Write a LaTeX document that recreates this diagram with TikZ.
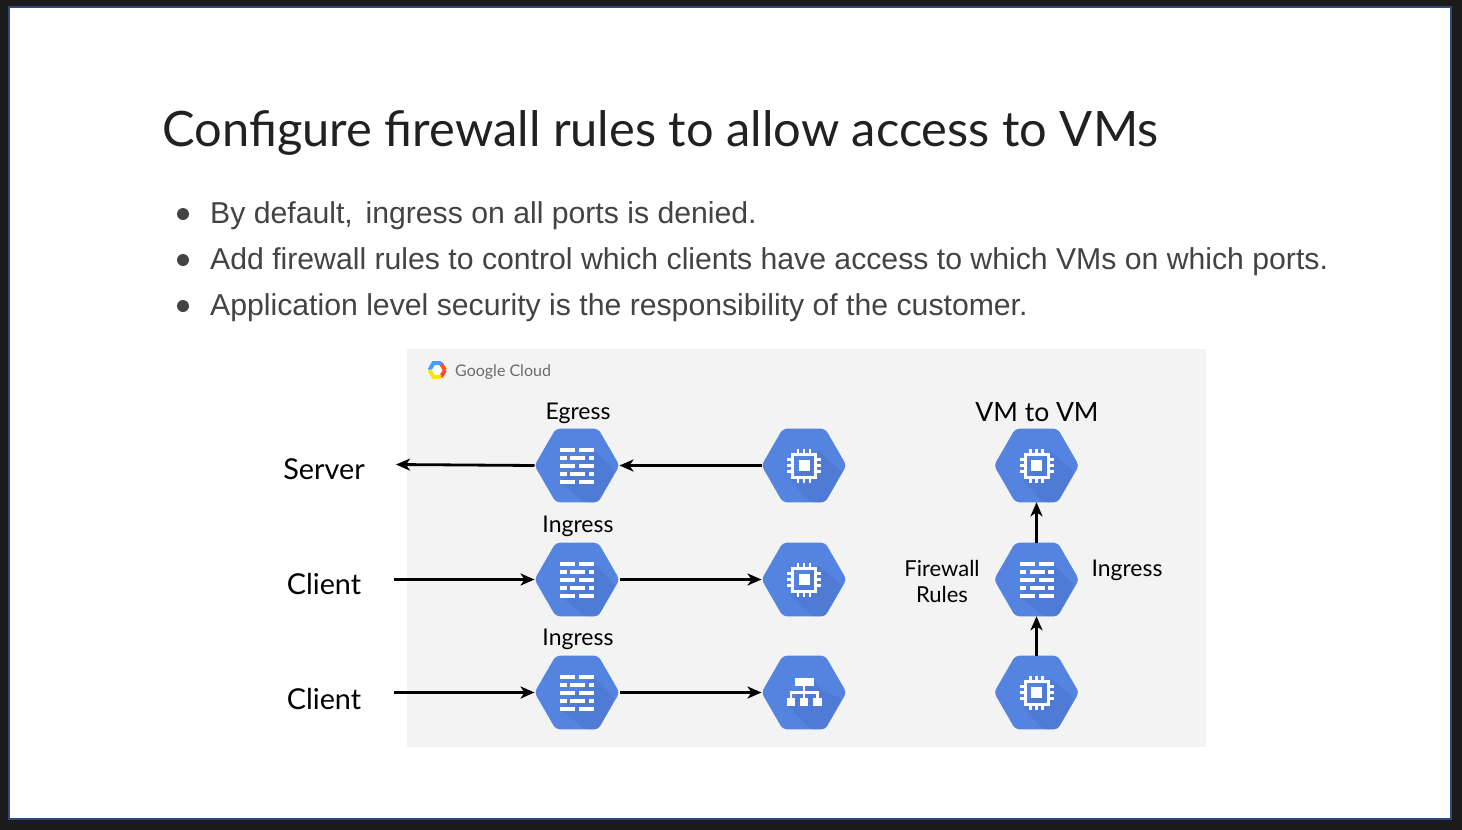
\documentclass[tikz,border=0pt]{standalone}
\usepackage{fontspec}
\setmainfont{Lato}
\newfontfamily\bodyfont{Liberation Sans}
\usetikzlibrary{shapes.geometric,arrows.meta}
\definecolor{hexblue}{HTML}{5484E0}
\definecolor{hexdark}{HTML}{4F7BD4}
\definecolor{panel}{HTML}{F3F3F3}
\definecolor{framebg}{HTML}{1B1B1B}
\definecolor{frameblue}{HTML}{2B4A80}
\definecolor{bodytxt}{HTML}{434343}
\definecolor{titletxt}{HTML}{212121}
\tikzset{
  x=1pt,y=-1pt,
  hexn/.style={regular polygon,regular polygon sides=6,minimum size=85pt,inner sep=0pt,outer sep=0pt,fill=hexblue,rounded corners=4pt},
  conn/.style={line width=2.8pt,black,-{Stealth[length=14pt,width=12pt,inset=4pt]}},
  lab/.style={inner sep=0pt,font=\fontsize{23}{23}\selectfont,text=black,anchor=base},
  sidewords/.style={lab,font=\fontsize{22}{22}\selectfont},
  biglab/.style={lab,font=\fontsize{26.5}{26.5}\selectfont},
  sidelab/.style={lab,font=\fontsize{28.8}{28.8}\selectfont},
  bul/.style={inner sep=0pt,anchor=base west,font=\bodyfont\fontsize{30.2}{30.2}\selectfont,text=bodytxt},
  dot/.style={circle,fill=bodytxt,minimum size=12pt,inner sep=0pt},
  shade/.style={fill=hexdark,rounded corners=3pt},
  ic/.style={fill=white,draw=none},
  fwicon/.pic={
    \fill[shade] (17,-16) -- (38,6) -- (21,36.5) -- (7,36.5) -- (-17,16) -- cycle;
    \foreach \y in {-16,0,16} {\fill[ic] (-17,\y-2) rectangle (-2,\y+2); \fill[ic] (2,\y-2) rectangle (17,\y+2);}
    \foreach \y in {-8,8} {\fill[ic] (-17,\y-2) rectangle (-10.5,\y+2); \fill[ic] (-7,\y-2) rectangle (8,\y+2); \fill[ic] (11.5,\y-2) rectangle (17,\y+2);}
  },
  vmicon/.pic={
    \fill[shade] (13,-15) -- (38,6) -- (21,36.5) -- (7,36.5) -- (-14,15) -- cycle;
    \draw[white,line width=3pt] (-11.5,-11.5) rectangle (11.5,11.5);
    \fill[ic] (-5.5,-5.5) rectangle (5.5,5.5);
    \foreach \p in {-6,0,6} {
      \draw[white,line width=2.2pt] (\p,-17) -- (\p,-12);
      \draw[white,line width=2.2pt] (\p,17) -- (\p,12);
      \draw[white,line width=2.2pt] (-17,\p) -- (-12,\p);
      \draw[white,line width=2.2pt] (17,\p) -- (12,\p);
    }
  },
  lbicon/.pic={
    \fill[shade] (9,-14) -- (17,-2) -- (38,6) -- (21,36.5) -- (7,36.5) -- (-17,13) -- cycle;
    \fill[ic] (-9.5,-15) rectangle (9.5,-6.5);
    \fill[ic] (-1.4,-6.5) rectangle (1.4,6);
    \fill[ic] (-14.5,-1.8) rectangle (14.5,1);
    \fill[ic] (-14.5,-1.8) rectangle (-11.7,6);
    \fill[ic] (11.7,-1.8) rectangle (14.5,6);
    \fill[ic] (-17.5,5) rectangle (-9,13);
    \fill[ic] (-4.3,5) rectangle (4.3,13);
    \fill[ic] (9,5) rectangle (17.5,13);
  }
}
\begin{document}
\begin{tikzpicture}
\useasboundingbox (0,0) rectangle (1462,830);
\fill[framebg] (0,0) rectangle (1462,830);
\fill[frameblue] (8,6) rectangle (1452,820);
\fill[white] (10,8) rectangle (1450,818);
\fill[panel] (407,349) rectangle (1205.5,746.5);

\node[inner sep=0pt,anchor=base west,text=titletxt,font=\fontsize{48.8}{48.8}\selectfont] (title) at (162.5,146) {Configure firewall rules to allow access to VMs};

\node[dot] (d1) at (183,214) {};
\node[dot] (d2) at (183,260) {};
\node[dot] (d3) at (183,306) {};
\node[bul] (b1) at (210,223) {By default,\hspace{0.42em}ingress on all ports is denied.};
\node[bul] (b2) at (210,269) {Add firewall rules to control which clients have access to which VMs on which ports.};
\node[bul] (b3) at (210,315) {Application level security is the responsibility of the customer.};

% logo
\fill[rounded corners=1.5pt,fill=white] (426.5,370) -- (432,360.5) -- (442.5,360.5) -- (448,370) -- (442.5,379.5) -- (432,379.5) -- cycle;
\draw[line width=4pt,color=red!60!orange!85!white] (440.5,363) -- (445,370);
\draw[line width=4pt,color=blue!50!cyan!75!white] (429.5,370) -- (433.5,363) -- (441,363);
\draw[line width=4pt,color=red!65!orange!85!white] (445,370) -- (441,377);
\draw[line width=4pt,color=yellow!85!orange] (429.5,370) -- (433.5,377) -- (441,377);
\node[inner sep=0pt,anchor=base west,text=black!58,font=\fontsize{16}{16}\selectfont] (logotext) at (455,376) {Google Cloud};

% hexagons
\node[hexn] (fe) at (577,465.5) {};
\node[hexn] (vm1) at (804,465.5) {};
\node[hexn] (fi1) at (577,579.5) {};
\node[hexn] (vm2) at (804,579.5) {};
\node[hexn] (fi2) at (577,692.5) {};
\node[hexn] (lb) at (804,692.5) {};
\node[hexn] (vmt) at (1036.5,465.5) {};
\node[hexn] (fr) at (1036.5,579.5) {};
\node[hexn] (vmb) at (1036.5,692.5) {};
\pic at (fe) {fwicon};
\pic at (fi1) {fwicon};
\pic at (fi2) {fwicon};
\pic at (fr) {fwicon};
\pic at (vm1) {vmicon};
\pic at (vm2) {vmicon};
\pic at (vmt) {vmicon};
\pic at (vmb) {vmicon};
\pic at (lb) {lbicon};

% labels
\node[lab] (leg) at (578,419) {Egress};
\node[lab] (lin1) at (578,532) {Ingress};
\node[lab] (lin2) at (578,645) {Ingress};
\node[biglab] (lvm) at (1037,421) {VM to VM};
\node[sidelab] (srv) at (324,479) {Server};
\node[sidelab] (cl1) at (324,594) {Client};
\node[sidelab] (cl2) at (324,709) {Client};
\node[sidewords] (fr1) at (942,576) {Firewall};
\node[sidewords] (fr2) at (942,602) {Rules};
\node[lab] (lin3) at (1127,576) {Ingress};

% free ends
\coordinate (srvend) at (396,464.5);
\coordinate (c1start) at (394,579.5);
\coordinate (c2start) at (394,692.5);

% connectors
\draw[conn] (fe.west) -- (srvend);
\draw[conn] (vm1.west) -- (fe.east);
\draw[conn] (c1start) -- (fi1.west);
\draw[conn] (fi1.east) -- (vm2.west);
\draw[conn] (c2start) -- (fi2.west);
\draw[conn] (fi2.east) -- (lb.west);
\draw[conn] (vmb.north) -- (fr.south);
\draw[conn] (fr.north) -- (vmt.south);
\end{tikzpicture}
\end{document}
